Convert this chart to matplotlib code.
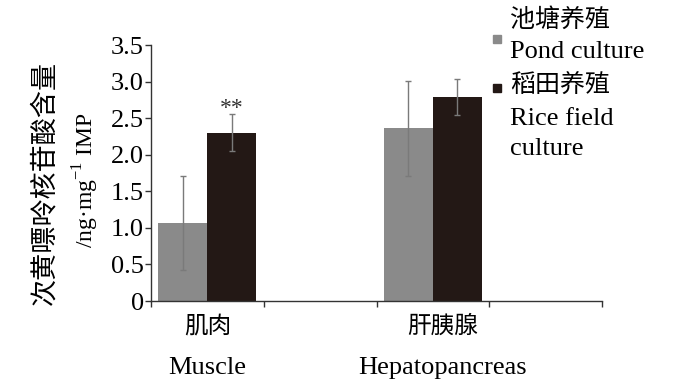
import numpy as np
import matplotlib
matplotlib.use('Agg')
import matplotlib.pyplot as plt

plt.rcParams['mathtext.fontset'] = 'custom'
plt.rcParams['mathtext.rm'] = 'Liberation Serif'

# 데이터
groups_cn = ['肌肉', '肝胰腺']
groups_en = ['Muscle', 'Hepatopancreas']
group_pos = [0.5, 2.5]  # 카테고리 중심 (4칸 중 1번째, 3번째)
pond_mean = [1.07, 2.36]
pond_err = [0.64, 0.645]
rice_mean = [2.30, 2.79]
rice_err = [0.25, 0.25]
series_cn = ['池塘养殖', '稻田养殖']
series_en = ['Pond culture', 'Rice field\nculture']
y_ticks = [0, 0.5, 1.0, 1.5, 2.0, 2.5, 3.0, 3.5]
y_ticklabels = ['0', '0.5', '1.0', '1.5', '2.0', '2.5', '3.0', '3.5']

gray = '#8a8a8a'
dark = '#231815'
serif = ['Liberation Serif', 'Noto Sans CJK SC']
cjk = ['Noto Sans CJK SC', 'Liberation Serif']

fig = plt.figure(figsize=(6.85, 3.91), dpi=100)
ax = fig.add_axes([151/685, 90/391, 451/685, 256/391])

w = 0.435
x = np.array(group_pos)
err_kw = dict(ecolor='#7a7a7a', elinewidth=1.0, capsize=2.5, capthick=1.0)
ax.bar(x - w/2, pond_mean, w, yerr=pond_err, color=gray, error_kw=err_kw, zorder=2)
ax.bar(x + w/2, rice_mean, w, yerr=rice_err, color=dark, error_kw=err_kw, zorder=2)

# 유의성 표시
ax.text(x[0] + w/2, rice_mean[0] + rice_err[0] - 0.06, '**', ha='center', va='bottom',
        fontsize=17, family=serif, color='#333333')

ax.set_xlim(0, 4)
ax.set_ylim(0, 3.5)
ax.set_xticks([0, 1, 2, 3, 4])
ax.set_xticklabels([])
ax.set_yticks(y_ticks)
ax.set_yticklabels(y_ticklabels, family=serif, fontsize=19)
ax.tick_params(axis='both', direction='out', length=4, width=1, color='#333333', pad=1)
for s in ['top', 'right']:
    ax.spines[s].set_visible(False)
for s in ['left', 'bottom']:
    ax.spines[s].set_color('#333333')
    ax.spines[s].set_linewidth(1.0)

# x 라벨
for gx, cn, en in zip(group_pos, groups_cn, groups_en):
    px = 151 + gx * 112.75
    if gx > 1:
        px += 10
    fig.text(px/685, 1 - 326/391, cn, ha='center', va='center', fontsize=17, family=cjk)
    fig.text(px/685, 1 - 368/391, en, ha='center', va='center', fontsize=19, family=serif)

# y 라벨
fig.text(45/685, 1 - 183/391, '次黄嘌呤核苷酸含量', rotation=90, ha='center', va='center',
         fontsize=19.5, family=cjk)
fig.text(86/685, 1 - 180/391, r'/ng·mg$^{\mathrm{-1}}$ IMP', rotation=90, ha='center',
         va='center', fontsize=17, family=serif)

# 범례
fig.patches.append(plt.Rectangle((493/685, 1 - 43/391), 8/685, 8/391, color=gray,
                                 transform=fig.transFigure, figure=fig))
fig.patches.append(plt.Rectangle((493/685, 1 - 92/391), 8/685, 8/391, color=dark,
                                 transform=fig.transFigure, figure=fig))
fig.text(510/685, 1 - 20/391, series_cn[0], ha='left', va='center', fontsize=18, family=cjk)
fig.text(510/685, 1 - 52/391, series_en[0], ha='left', va='center', fontsize=19, family=serif)
fig.text(510/685, 1 - 85/391, series_cn[1], ha='left', va='center', fontsize=18, family=cjk)
fig.text(510/685, 1 - 134/391, series_en[1], ha='left', va='center', fontsize=19,
         family=serif, linespacing=1.45)

fig.savefig('out.png', dpi=100)
